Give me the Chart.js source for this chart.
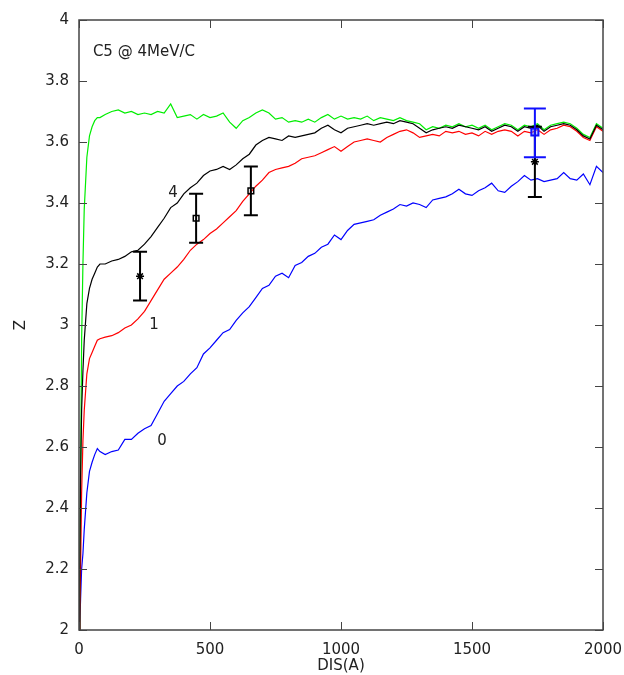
<!DOCTYPE html>
<html>
<head>
<meta charset="utf-8">
<script src="https://cdn.jsdelivr.net/npm/chart.js@4/dist/chart.umd.min.js"></script>
<style>
  body { margin: 0; background: #fff; }
  #wrap { width: 624px; height: 675px; }
</style>
</head>
<body>
<div id="wrap"><canvas id="grafico"></canvas></div>
<script>
// distance (A) shared by all curves
const dis = [0, 3, 6, 10, 15, 20, 30, 40, 50, 60, 70, 80,
  100, 125, 150, 175, 200, 225, 250, 275, 300, 325, 350, 375, 400, 425, 450, 475,
  500, 525, 550, 575, 600, 625, 650, 675, 700, 725, 750, 775, 800, 825, 850, 875,
  900, 925, 950, 975, 1000, 1025, 1050, 1075, 1100, 1125, 1150, 1175, 1200, 1225, 1250, 1275,
  1300, 1325, 1350, 1375, 1400, 1425, 1450, 1475, 1500, 1525, 1550, 1575, 1600, 1625, 1650, 1675,
  1700, 1725, 1750, 1775, 1800, 1825, 1850, 1875, 1900, 1925, 1950, 1975, 2000];

// green (no label)
const zVerde = [2.0, 2.1, 2.5, 2.95, 3.2, 3.38, 3.55, 3.62, 3.65, 3.67, 3.68, 3.68,
  3.69, 3.70, 3.705, 3.695, 3.70, 3.69, 3.695, 3.69, 3.70, 3.695, 3.725, 3.68, 3.685, 3.69, 3.675, 3.69,
  3.68, 3.685, 3.695, 3.665, 3.645, 3.67, 3.68, 3.695, 3.705, 3.695, 3.675, 3.68, 3.665, 3.67, 3.665, 3.675,
  3.665, 3.68, 3.69, 3.675, 3.685, 3.675, 3.68, 3.675, 3.685, 3.67, 3.68, 3.675, 3.67, 3.68, 3.67, 3.665,
  3.66, 3.64, 3.65, 3.645, 3.655, 3.65, 3.66, 3.65, 3.655, 3.645, 3.655, 3.64, 3.65, 3.66, 3.655, 3.64,
  3.655, 3.65, 3.66, 3.64, 3.655, 3.66, 3.665, 3.66, 3.645, 3.625, 3.615, 3.66, 3.645];

// curve "4" (black)
const zQuatro = [2.0, 2.2, 2.5, 2.72, 2.85, 2.95, 3.07, 3.12, 3.15, 3.17, 3.19, 3.20,
  3.20, 3.21, 3.215, 3.225, 3.24, 3.245, 3.265, 3.29, 3.32, 3.35, 3.385, 3.40, 3.43, 3.45, 3.465, 3.49,
  3.505, 3.51, 3.52, 3.51, 3.525, 3.545, 3.56, 3.59, 3.605, 3.615, 3.61, 3.605, 3.62, 3.615, 3.62, 3.625,
  3.63, 3.645, 3.655, 3.64, 3.63, 3.645, 3.65, 3.655, 3.66, 3.655, 3.66, 3.665, 3.66, 3.67, 3.665, 3.66,
  3.645, 3.63, 3.64, 3.645, 3.65, 3.645, 3.655, 3.65, 3.645, 3.64, 3.65, 3.635, 3.645, 3.655, 3.65, 3.635,
  3.65, 3.645, 3.655, 3.635, 3.65, 3.655, 3.66, 3.655, 3.64, 3.62, 3.61, 3.655, 3.64];

// curve "1" (red)
const zUm = [2.0, 2.05, 2.2, 2.45, 2.62, 2.72, 2.84, 2.89, 2.91, 2.93, 2.95, 2.955,
  2.96, 2.965, 2.975, 2.99, 3.0, 3.02, 3.045, 3.08, 3.115, 3.15, 3.17, 3.19, 3.215, 3.245, 3.265, 3.28,
  3.30, 3.315, 3.335, 3.355, 3.375, 3.405, 3.43, 3.455, 3.475, 3.50, 3.51, 3.515, 3.52, 3.53, 3.545, 3.55,
  3.555, 3.565, 3.575, 3.585, 3.57, 3.585, 3.60, 3.605, 3.61, 3.605, 3.60, 3.615, 3.625, 3.635, 3.64, 3.63,
  3.615, 3.62, 3.625, 3.62, 3.635, 3.63, 3.635, 3.625, 3.63, 3.62, 3.635, 3.625, 3.635, 3.64, 3.635, 3.62,
  3.635, 3.63, 3.64, 3.625, 3.64, 3.645, 3.655, 3.65, 3.635, 3.615, 3.605, 3.65, 3.635];

// curve "0" (blue)
const zZero = [2.0, 2.02, 2.1, 2.2, 2.25, 2.33, 2.45, 2.52, 2.55, 2.575, 2.595, 2.585,
  2.575, 2.585, 2.59, 2.625, 2.625, 2.645, 2.66, 2.67, 2.71, 2.75, 2.775, 2.80, 2.815, 2.84, 2.86, 2.905,
  2.925, 2.95, 2.975, 2.985, 3.015, 3.04, 3.06, 3.09, 3.12, 3.13, 3.16, 3.17, 3.155, 3.195, 3.205, 3.225,
  3.235, 3.255, 3.265, 3.295, 3.28, 3.31, 3.33, 3.335, 3.34, 3.345, 3.36, 3.37, 3.38, 3.395, 3.39, 3.40,
  3.395, 3.385, 3.41, 3.415, 3.42, 3.43, 3.445, 3.43, 3.425, 3.44, 3.45, 3.465, 3.44, 3.435, 3.455, 3.47,
  3.49, 3.475, 3.48, 3.47, 3.475, 3.48, 3.50, 3.48, 3.475, 3.495, 3.46, 3.52, 3.50];

// experimental points with error bars
const expX = [233, 447, 656, 1740];
const expZ = [3.16, 3.35, 3.44, 3.535];
const expMin = [3.08, 3.27, 3.36, 3.42];
const expMax = [3.24, 3.43, 3.52, 3.65];
const expMarca = ['star', 'rect', 'rect', 'star'];

const azulX = [1740];
const azulZ = [3.633];
const azulMin = [3.55];
const azulMax = [3.71];

const yTicks = [2, 2.2, 2.4, 2.6, 2.8, 3, 3.2, 3.4, 3.6, 3.8, 4];
const xTicks = [0, 500, 1000, 1500, 2000];

// texts written inside the plot
const notas = [
  { texto: 'C5 @ 4MeV/C', x: 53, y: 3.895, alinha: 'left' },
  { texto: '4', x: 359, y: 3.433, alinha: 'center' },
  { texto: '1', x: 286, y: 3.0, alinha: 'center' },
  { texto: '0', x: 317, y: 2.62, alinha: 'center' }
];

const pontos = (xs, ys) => xs.map((x, i) => ({ x: x, y: ys[i] }));

const FONTE = 'DejaVu Sans';
const COR_EIXO = '#444';

const barrasErro = {
  id: 'barrasErro',
  afterDatasetsDraw(chart) {
    const ctx = chart.ctx;
    const sx = chart.scales.x, sy = chart.scales.y;
    const desenha = (xs, lo, hi, cor, meia) => {
      ctx.save();
      ctx.strokeStyle = cor;
      ctx.lineWidth = 2;
      xs.forEach((x, i) => {
        const px = sx.getPixelForValue(x);
        const p1 = sy.getPixelForValue(lo[i]);
        const p2 = sy.getPixelForValue(hi[i]);
        ctx.beginPath();
        ctx.moveTo(px, p1); ctx.lineTo(px, p2);
        ctx.moveTo(px - meia, p1); ctx.lineTo(px + meia, p1);
        ctx.moveTo(px - meia, p2); ctx.lineTo(px + meia, p2);
        ctx.stroke();
      });
      ctx.restore();
    };
    desenha(expX, expMin, expMax, '#000', 7);
    desenha(azulX, azulMin, azulMax, '#1010ff', 11);
  }
};

const molduraENotas = {
  id: 'molduraENotas',
  afterDraw(chart) {
    const ctx = chart.ctx;
    const a = chart.chartArea;
    const sx = chart.scales.x, sy = chart.scales.y;
    ctx.save();
    ctx.strokeStyle = COR_EIXO;
    ctx.lineWidth = 1.5;
    ctx.strokeRect(a.left, a.top, a.right - a.left, a.bottom - a.top);
    ctx.lineWidth = 1;
    ctx.beginPath();
    xTicks.forEach(v => {
      const px = Math.round(sx.getPixelForValue(v)) + 0.5;
      ctx.moveTo(px, a.bottom); ctx.lineTo(px, a.bottom - 8);
      ctx.moveTo(px, a.top); ctx.lineTo(px, a.top + 8);
    });
    yTicks.forEach(v => {
      const py = Math.round(sy.getPixelForValue(v)) + 0.5;
      ctx.moveTo(a.left, py); ctx.lineTo(a.left + 8, py);
      ctx.moveTo(a.right, py); ctx.lineTo(a.right - 8, py);
    });
    ctx.stroke();

    ctx.fillStyle = '#222';
    ctx.font = '15px ' + FONTE;
    ctx.textBaseline = 'middle';
    notas.forEach(n => {
      ctx.textAlign = n.alinha;
      ctx.fillText(n.texto, sx.getPixelForValue(n.x), sy.getPixelForValue(n.y));
    });
    ctx.restore();
  }
};

new Chart(document.getElementById('grafico'), {
  type: 'scatter',
  data: {
    datasets: [
      {
        label: 'pontos',
        data: pontos(expX, expZ),
        pointStyle: expMarca,
        pointRadius: 4,
        borderColor: '#000',
        backgroundColor: 'rgba(0,0,0,0)',
        borderWidth: 1.5,
        order: 0
      },
      {
        label: 'azul',
        data: pontos(azulX, azulZ),
        pointStyle: 'rect',
        pointRadius: 5,
        borderColor: '#1010ff',
        backgroundColor: 'rgba(120,140,255,0.5)',
        borderWidth: 2,
        order: 0
      },
      {
        label: '4',
        data: pontos(dis, zQuatro),
        showLine: true, pointRadius: 0,
        borderColor: '#000', borderWidth: 1.2,
        order: 1
      },
      {
        label: '1',
        data: pontos(dis, zUm),
        showLine: true, pointRadius: 0,
        borderColor: '#ff0000', borderWidth: 1.2,
        order: 2
      },
      {
        label: 'verde',
        data: pontos(dis, zVerde),
        showLine: true, pointRadius: 0,
        borderColor: '#00ee00', borderWidth: 1.2,
        order: 3
      },
      {
        label: '0',
        data: pontos(dis, zZero),
        showLine: true, pointRadius: 0,
        borderColor: '#0000ff', borderWidth: 1.2,
        order: 4
      }
    ]
  },
  options: {
    responsive: true,
    maintainAspectRatio: false,
    animation: false,
    layout: { padding: { left: 0, top: 20, right: 21, bottom: 0 } },
    plugins: {
      legend: { display: false },
      tooltip: { enabled: false }
    },
    scales: {
      x: {
        type: 'linear',
        min: 0, max: 2000,
        afterFit: s => { s.height = 45; s.paddingLeft = 0; s.paddingRight = 0; },
        afterBuildTicks: s => { s.ticks = xTicks.map(v => ({ value: v })); },
        grid: { display: false, drawTicks: false },
        border: { display: false },
        ticks: {
          color: '#222', font: { family: FONTE, size: 15 }, padding: 11, maxRotation: 0,
          callback: v => String(v)
        },
        title: {
          display: true, text: 'DIS(A)', color: '#222',
          font: { family: FONTE, size: 15 }, padding: { top: 0, bottom: 0 }
        }
      },
      y: {
        type: 'linear',
        min: 2, max: 4,
        afterFit: s => { s.width = 79; s.paddingTop = 0; s.paddingBottom = 0; },
        afterBuildTicks: s => { s.ticks = yTicks.map(v => ({ value: v })); },
        grid: { display: false, drawTicks: false },
        border: { display: false },
        ticks: {
          color: '#222', font: { family: FONTE, size: 15 }, padding: 10,
          callback: v => String(+v.toFixed(1))
        },
        title: {
          display: true, text: 'Z', color: '#222',
          font: { family: FONTE, size: 15 }, padding: { top: 12, bottom: 0 }
        }
      }
    }
  },
  plugins: [barrasErro, molduraENotas]
});
</script>
</body>
</html>
